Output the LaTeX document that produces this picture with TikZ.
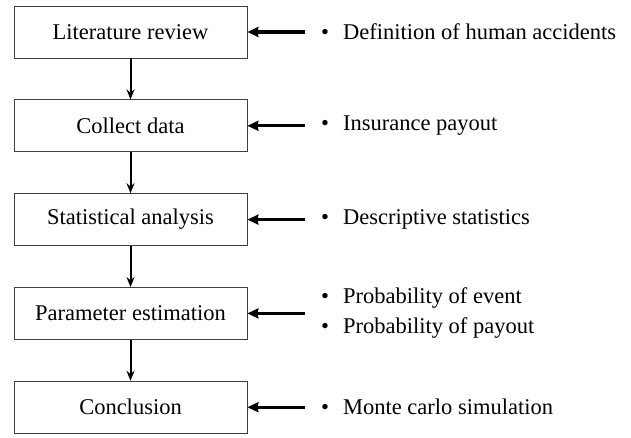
\documentclass[tikz,border=0pt]{standalone}
\usepackage{fontspec}
\setmainfont{Liberation Serif}
\usetikzlibrary{arrows.meta, positioning}

\begin{document}
\begin{tikzpicture}[
    x=1pt, y=1pt, node distance=41pt, >=Stealth,
    stepbox/.style={rectangle, draw=black!75, line width=0.8pt, minimum width=233pt, minimum height=52pt, inner sep=0pt, font=\fontsize{22.5}{26}\selectfont},
    note/.style={anchor=west, inner xsep=16pt, inner ysep=0pt, align=left, font=\fontsize{22.5}{30}\selectfont},
    flow/.style={draw, ->, line width=2pt, >={Stealth[length=10pt, width=8pt]}},
    line/.style={draw, ->, line width=3.2pt, >={Stealth[length=11pt, width=10pt, inset=1pt]}}
  ]
    \useasboundingbox (0,0) rectangle (631,-437);

    \node (review) [stepbox] at (130.5,-32) {Literature review};
    \node (collect) [stepbox, below=of review] {Collect data};
    \node (stats) [stepbox, below=of collect] {Statistical analysis};
    \node (param) [stepbox, below=of stats] {Parameter estimation};
    \node (concl) [stepbox, below=of param] {Conclusion};

    \node (d_review) [note] at (305,-32) {\textbullet\hspace{14pt}Definition of human accidents};
    \node (d_collect) [note] at (305,0 |- collect) {\textbullet\hspace{14pt}Insurance payout};
    \node (d_stats) [note] at (305,0 |- stats) {\textbullet\hspace{14pt}Descriptive statistics};
    \node (d_param) [note] at (305,0 |- param) {\textbullet\hspace{14pt}Probability of event\\\textbullet\hspace{14pt}Probability of payout};
    \node (d_concl) [note] at (305,0 |- concl) {\textbullet\hspace{14pt}Monte carlo simulation};

    \draw[flow] (review) -- (collect);
    \draw[flow] (collect) -- (stats);
    \draw[flow] (stats) -- (param);
    \draw[flow] (param) -- (concl);

    \draw[line] (d_review.west) -- (review.east);
    \draw[line] (d_collect.west) -- (collect.east);
    \draw[line] (d_stats.west) -- (stats.east);
    \draw[line] (d_param.west) -- (param.east);
    \draw[line] (d_concl.west) -- (concl.east);
  \end{tikzpicture}
\end{document}
